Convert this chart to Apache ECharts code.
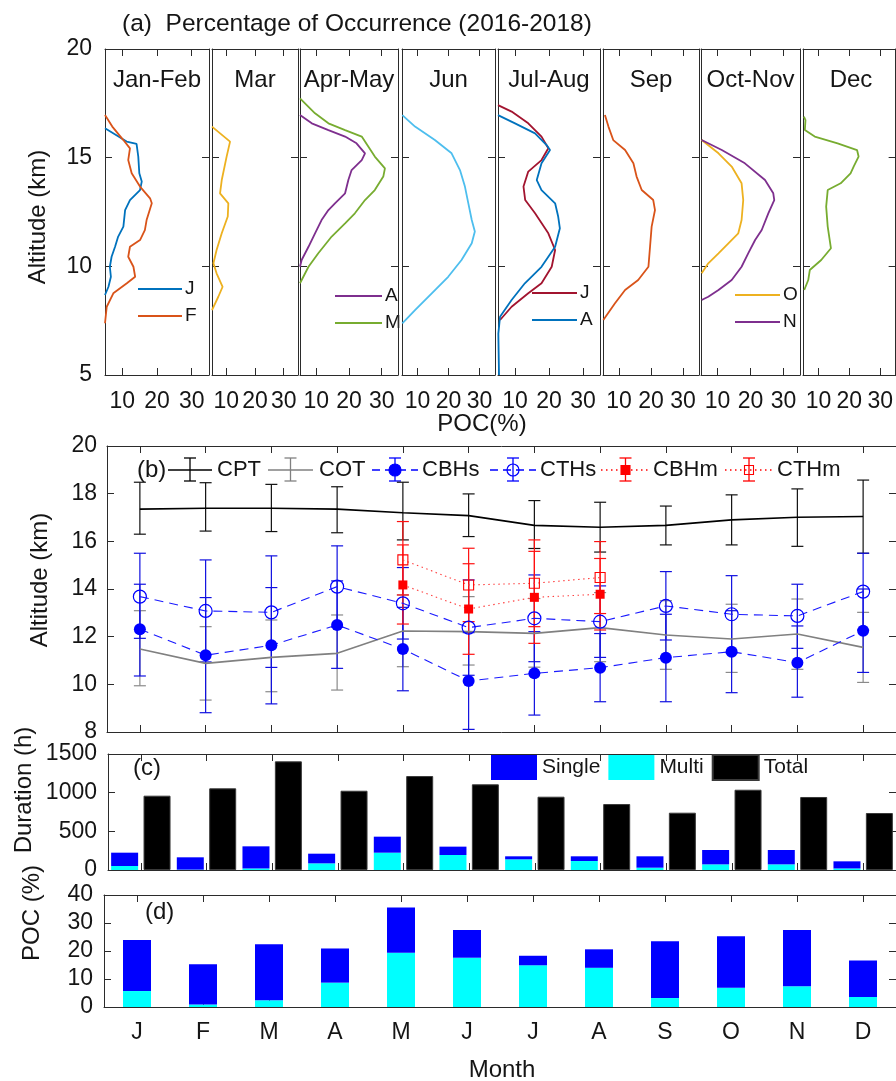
<!DOCTYPE html>
<html><head><meta charset="utf-8">
<script src="https://cdn.jsdelivr.net/npm/echarts@6/dist/echarts.min.js"></script>
<style>html,body{margin:0;padding:0;background:#fff}#c{width:896px;height:1081px}</style>
</head><body><div id="c"></div>
<script>
// ================= DATA =================
const months = ['J','F','M','A','M','J','J','A','S','O','N','D'];
const pocTicks = [10, 20, 30];
const altTicks = [5, 10, 15, 20];

// (a) POC profiles: [POC %, altitude km]
const janJ = [[5.0,16.35],[11.25,15.74],[14.1,15.63],[14.6,15.05],[14.9,14.28],[15.6,13.9],[15.1,13.51],[12.2,13.05],[10.8,12.59],[10.3,11.83],[8.8,11.37],[7.9,10.9],[6.9,10.44],[6.4,9.98],[6.7,9.52],[6.0,9.06],[5.0,8.68]];
const febF = [[5.0,16.96],[7.1,16.43],[10.3,15.81],[12.2,15.43],[11.7,14.89],[12.7,14.28],[15.1,13.67],[18.0,13.13],[18.5,12.9],[17.0,12.13],[16.5,11.67],[15.1,11.21],[12.2,10.9],[11.7,10.44],[13.2,9.98],[13.7,9.52],[11.3,9.22],[7.4,8.76],[5.5,8.14],[5.0,7.38]];
const marP = [[5.0,16.43],[11.3,15.74],[10.1,15.05],[8.4,13.97],[7.8,13.36],[10.7,12.9],[10.5,12.29],[8.4,11.52],[6.6,10.75],[5.5,10.14],[6.6,9.68],[8.7,9.06],[7.2,8.6],[5.0,7.99]];
const aprA = [[5.0,16.96],[8.6,16.58],[13.7,16.27],[18.8,15.97],[22.3,15.66],[24.9,15.2],[23.9,14.89],[20.8,14.43],[19.8,13.97],[18.8,13.36],[15.7,12.9],[13.7,12.59],[11.6,12.13],[9.6,11.52],[7.6,10.9],[5.5,10.29],[5.0,9.98]];
const mayM = [[5.0,17.73],[9.6,17.04],[13.7,16.58],[18.8,16.27],[23.9,15.97],[25.9,15.51],[27.9,15.05],[31.0,14.51],[30.5,14.13],[27.9,13.51],[24.9,13.05],[21.8,12.44],[18.8,11.98],[14.7,11.37],[10.6,10.6],[7.6,9.98],[5.0,9.22]];
const junP = [[5.1,16.96],[9.2,16.43],[15.6,15.81],[21.0,15.2],[23.7,14.43],[25.3,13.67],[26.4,12.9],[27.5,12.13],[28.5,11.6],[27.5,11.06],[24.2,10.29],[19.9,9.52],[14.6,8.76],[9.2,7.99],[5.1,7.38]];
const julJ = [[5.0,17.42],[9.0,17.12],[13.9,16.58],[17.8,15.97],[19.8,15.43],[17.8,14.89],[13.9,14.36],[12.5,13.67],[13.0,13.05],[15.9,12.44],[19.8,11.52],[21.8,10.75],[20.8,9.98],[17.8,9.22],[13.9,8.76],[9.0,8.14],[5.6,7.53]];
const augA = [[5.0,16.96],[10.0,16.58],[15.9,16.12],[19.3,15.58],[20.3,15.35],[17.8,14.74],[16.4,13.97],[17.8,13.51],[21.8,12.9],[22.7,12.29],[23.2,11.75],[21.8,10.9],[17.8,9.98],[12.9,9.22],[9.0,8.45],[5.6,7.68],[5.1,6.9],[5.3,5.0]];
const sepP = [[5.6,16.96],[6.7,16.43],[8.2,15.81],[11.9,15.35],[14.5,14.74],[15.5,14.13],[17.1,13.51],[20.7,13.05],[21.25,12.59],[20.2,11.83],[19.7,10.9],[19.2,9.98],[16.0,9.37],[11.9,8.91],[8.75,8.3],[5.1,7.53]];
const octO = [[5.2,15.81],[10.3,15.2],[14.3,14.59],[17.3,13.82],[17.8,13.05],[17.3,12.13],[16.3,11.52],[13.3,11.06],[10.3,10.6],[7.2,10.14],[5.2,9.68]];
const novN = [[5.2,15.81],[11.3,15.35],[18.3,14.74],[24.4,13.97],[26.9,13.36],[27.2,13.05],[25.4,12.44],[23.4,11.67],[21.4,11.21],[19.3,10.6],[17.3,9.98],[14.3,9.37],[10.3,8.91],[7.2,8.6],[5.2,8.45]];
const decP = [[5.3,16.89],[5.8,16.73],[5.6,16.27],[8.8,15.97],[16.2,15.66],[22.5,15.35],[23.0,15.05],[21.4,14.59],[20.4,14.28],[17.2,13.82],[13.0,13.51],[12.5,12.75],[13.0,11.83],[14.05,10.83],[10.9,10.29],[7.2,9.83],[6.7,9.37],[5.4,8.91]];

// (b) heights (km): mean, lower, upper
const cptMean = [17.35,17.39,17.39,17.35,17.20,17.08,16.67,16.59,16.67,16.90,17.01,17.04];
const cptLow  = [16.30,16.43,16.41,16.36,16.06,16.20,15.70,15.55,15.85,15.85,15.79,15.50];
const cptHigh = [18.48,18.46,18.39,18.29,18.48,17.99,17.71,17.64,17.48,17.95,18.20,18.57];
const cotMean = [11.48,10.88,11.13,11.30,12.24,12.21,12.14,12.38,12.07,11.90,12.11,11.55];
const cotLow  = [9.94,9.34,9.69,9.76,10.74,10.81,10.72,10.95,10.63,10.50,10.63,10.08];
const cotHigh = [13.09,12.42,12.70,12.91,13.75,13.68,13.60,13.85,13.51,13.36,13.58,13.02];
const cbhsMean = [12.31,11.22,11.64,12.49,11.48,10.14,10.46,10.70,11.12,11.37,10.91,12.25];
const cbhsLow  = [10.35,8.81,9.18,10.67,9.73,8.11,8.71,9.27,9.27,9.65,9.46,10.50];
const cbhsHigh = [14.20,13.64,14.06,14.34,13.23,12.17,12.21,12.13,12.94,13.09,12.45,14.00];
const cthsMean = [13.68,13.08,13.02,14.10,13.40,12.38,12.77,12.63,13.29,12.94,12.87,13.89];
const cthsLow  = [11.93,10.94,10.71,12.40,11.90,10.38,10.95,11.13,11.86,11.32,11.51,12.28];
const cthsHigh = [15.50,15.22,15.39,15.81,14.90,14.38,14.59,14.13,14.73,14.56,14.20,15.50];
const cbhmMean = [null,null,null,null,14.17,13.16,13.65,13.78,null,null,null,null];
const cbhmLow  = [null,null,null,null,12.53,11.26,11.72,12.28,null,null,null,null];
const cbhmHigh = [null,null,null,null,15.85,15.06,15.58,15.28,null,null,null,null];
const cthmMean = [null,null,null,null,15.22,14.17,14.24,14.48,null,null,null,null];
const cthmLow  = [null,null,null,null,13.75,12.63,12.42,12.97,null,null,null,null];
const cthmHigh = [null,null,null,null,16.83,15.71,16.06,15.99,null,null,null,null];

// (c) duration (h)
const durMulti  = [52,5,20,86,224,194,138,116,30,73,73,20];
const durSingle = [172,159,286,125,207,108,39,61,147,186,186,92];
const durTotal  = [961,1056,1405,1025,1215,1108,948,853,741,1038,944,737];

// (d) POC (%)
const pocMulti  = [5.7,0.9,2.4,8.7,19.4,17.6,14.9,14.0,3.2,6.9,7.4,3.6];
const pocSingle = [18.2,14.4,20.0,12.2,16.1,9.9,3.4,6.6,20.3,18.4,20.1,13.0];

// ================= STYLE / LAYOUT =================
const FONT = "'Liberation Sans', Arial, Helvetica, sans-serif";
const INK = '#151515';
const AXC = '#2b2b2b';
const C = {blue:'#0072BD', orange:'#D95319', yellow:'#EDB120', purple:'#7E2F8E', green:'#77AC30', lblue:'#4DBEEE', dred:'#A2142F'};

const aPanels = [
  {title:'Jan-Feb', left:105, width:104, lines:[{d:janJ,c:C.blue,n:'J'},{d:febF,c:C.orange,n:'F'}], leg:{x1:138,x2:182,y:289}},
  {title:'Mar', left:212, width:86, lines:[{d:marP,c:C.yellow,n:'Mar'}]},
  {title:'Apr-May', left:300, width:98, lines:[{d:aprA,c:C.purple,n:'A'},{d:mayM,c:C.green,n:'M'}], leg:{x1:335,x2:382,y:296}},
  {title:'Jun', left:402, width:93, lines:[{d:junP,c:C.lblue,n:'Jun'}]},
  {title:'Jul-Aug', left:498, width:102, lines:[{d:julJ,c:C.dred,n:'J'},{d:augA,c:C.blue,n:'A'}], leg:{x1:532,x2:577,y:293}},
  {title:'Sep', left:603, width:96, lines:[{d:sepP,c:C.orange,n:'Sep'}]},
  {title:'Oct-Nov', left:701, width:99, lines:[{d:octO,c:C.yellow,n:'O'},{d:novN,c:C.purple,n:'N'}], leg:{x1:735,x2:780,y:295}},
  {title:'Dec', left:803, width:96, lines:[{d:decP,c:C.green,n:'Dec'}]}
];

const AXL = {show:true, onZero:false, lineStyle:{color:AXC, width:1}};
const tk = (vals) => { const t = {show:true, inside:true, length:7, lineStyle:{color:AXC, width:1}}; if (vals) t.customValues = vals; return t; };
const lab = (extra) => Object.assign({color:INK, fontSize:23, fontFamily:FONT}, extra);

const grids = [], xAxes = [], yAxes = [], series = [], graphics = [];

function txt(x, y, s, size, opts) {
  const o = Object.assign({type:'text', x:x, y:y, silent:true, style:{text:s, fill:INK, font:size+'px '+FONT, textAlign:'left', textVerticalAlign:'middle'}}, opts||{});
  if (opts && opts.style) o.style = Object.assign({text:s, fill:INK, font:size+'px '+FONT, textAlign:'left', textVerticalAlign:'middle'}, opts.style);
  return o;
}

// ---- panel (a) ----
aPanels.forEach((p, i) => {
  grids.push({left:p.left, top:49, width:p.width, height:326});
  xAxes.push({type:'value', gridIndex:i, min:5, max:35, position:'bottom', axisLine:AXL, axisTick:tk(pocTicks), axisLabel:lab({customValues:pocTicks, margin:15}), splitLine:{show:false}});
  xAxes.push({type:'value', gridIndex:i, min:5, max:35, position:'top', axisLine:AXL, axisTick:tk(pocTicks), axisLabel:{show:false}, splitLine:{show:false}});
  yAxes.push({type:'value', gridIndex:i, min:5, max:20, interval:5, position:'left', axisLine:AXL, axisTick:tk([10,15]), axisLabel:lab({show:i===0, customValues:altTicks, margin:13}), splitLine:{show:false}});
  yAxes.push({type:'value', gridIndex:i, min:5, max:20, interval:5, position:'right', axisLine:AXL, axisTick:tk([10,15]), axisLabel:{show:false}, splitLine:{show:false}});
  p.lines.forEach(l => series.push({type:'line', name:p.title+' '+l.n, xAxisIndex:2*i, yAxisIndex:2*i, data:l.d, symbol:'none', lineStyle:{color:l.c, width:1.8}, itemStyle:{color:l.c}, silent:true, z:3}));
  graphics.push(txt(p.left + p.width/2, 80, p.title, 24, {style:{textAlign:'center'}}));
  if (p.leg) {
    p.lines.forEach((l, k) => {
      const y = p.leg.y + k*27;
      graphics.push({type:'line', silent:true, shape:{x1:p.leg.x1, y1:y, x2:p.leg.x2, y2:y}, style:{stroke:l.c, lineWidth:1.8}});
      graphics.push(txt(p.leg.x2 + 3, y, l.n, 19));
    });
  }
});

// ---- panels (b), (c), (d) ----
const gB = 8, gC = 9, gD = 10;
grids.push({left:107, top:446, width:792, height:286});
grids.push({left:108, top:754, width:792, height:116});
grids.push({left:104, top:895, width:796, height:112});

function catAxes(g, showLabels) {
  xAxes.push({type:'category', gridIndex:g, data:months, position:'bottom', boundaryGap:true, axisLine:AXL, axisTick:Object.assign(tk(), {alignWithLabel:true}), axisLabel:showLabels ? lab({margin:14, interval:0}) : {show:false}, splitLine:{show:false}});
  xAxes.push({type:'category', gridIndex:g, data:months, position:'top', boundaryGap:true, axisLine:AXL, axisTick:Object.assign(tk(), {alignWithLabel:true}), axisLabel:{show:false}, splitLine:{show:false}});
}
function valAxes(g, min, max, interval, margin) {
  yAxes.push({type:'value', gridIndex:g, min:min, max:max, interval:interval, position:'left', axisLine:AXL, axisTick:tk(), axisLabel:lab({margin:margin, formatter:(v) => String(v)}), splitLine:{show:false}});
  yAxes.push({type:'value', gridIndex:g, min:min, max:max, interval:interval, position:'right', axisLine:AXL, axisTick:tk(), axisLabel:{show:false}, splitLine:{show:false}});
}
catAxes(gB, false); valAxes(gB, 8, 20, 2, 10);
catAxes(gC, false); valAxes(gC, 0, 1500, 500, 11);
catAxes(gD, true);  valAxes(gD, 0, 40, 10, 11);

function errBar(color, width) {
  return function (params, api) {
    const x = api.value(0);
    const lo = api.coord([x, api.value(1)]);
    const hi = api.coord([x, api.value(2)]);
    const c = 6, st = {stroke:color, lineWidth:width};
    return {type:'group', children:[
      {type:'line', shape:{x1:lo[0], y1:lo[1], x2:hi[0], y2:hi[1]}, style:st},
      {type:'line', shape:{x1:lo[0]-c, y1:lo[1], x2:lo[0]+c, y2:lo[1]}, style:st},
      {type:'line', shape:{x1:hi[0]-c, y1:hi[1], x2:hi[0]+c, y2:hi[1]}, style:st}
    ]};
  };
}
function ebData(lo, hi) {
  const out = [];
  lo.forEach((v, i) => { if (v !== null) out.push([i, v, hi[i]]); });
  return out;
}
const bAx = {xAxisIndex:2*gB, yAxisIndex:2*gB};
function addB(name, mean, lo, hi, ebColor, lineStyle, symbol, size, itemStyle) {
  series.push(Object.assign({type:'custom', name:name+' err', renderItem:errBar(ebColor, 1.2), data:ebData(lo, hi), encode:{x:0, y:[1,2]}, silent:true, z:2}, bAx));
  series.push(Object.assign({type:'line', name:name, data:mean, symbol:symbol, symbolSize:size, showSymbol:symbol !== 'none', lineStyle:lineStyle, itemStyle:itemStyle, silent:true, z:3, connectNulls:false}, bAx));
}
addB('CPT', cptMean, cptLow, cptHigh, '#111', {color:'#000', width:1.6}, 'none', 0, {color:'#000'});
addB('COT', cotMean, cotLow, cotHigh, '#8a8a8a', {color:'#808080', width:1.6}, 'none', 0, {color:'#808080'});
addB('CTHs', cthsMean, cthsLow, cthsHigh, '#1010E0', {color:'#1a1aff', width:1.1, type:[9,6]}, 'circle', 13, {color:'rgba(255,255,255,0)', borderColor:'#0000FF', borderWidth:1.2});
addB('CBHs', cbhsMean, cbhsLow, cbhsHigh, '#1010E0', {color:'#1a1aff', width:1.1, type:[9,6]}, 'circle', 12, {color:'#0000FF'});
addB('CTHm', cthmMean, cthmLow, cthmHigh, '#FF1010', {color:'#FF4040', width:1.1, type:[1.5,3.5]}, 'rect', 10, {color:'rgba(255,255,255,0)', borderColor:'#FF0000', borderWidth:1.1});
addB('CBHm', cbhmMean, cbhmLow, cbhmHigh, '#FF1010', {color:'#FF4040', width:1.1, type:[1.5,3.5]}, 'rect', 9, {color:'#FF0000'});

// legend for (b)
graphics.push(txt(137, 470, '(b)', 24));
function bLeg(x1, x2, color, dash, marker, fill, label, tx) {
  const y = 470, xm = (x1 + x2) / 2;
  const st = {stroke:color, lineWidth:1.3};
  graphics.push({type:'line', silent:true, shape:{x1:x1, y1:y, x2:x2, y2:y}, style:Object.assign({stroke:color, lineWidth:1.5}, dash ? {lineDash:dash} : {})});
  graphics.push({type:'line', silent:true, shape:{x1:xm, y1:y-12, x2:xm, y2:y+11}, style:st});
  graphics.push({type:'line', silent:true, shape:{x1:xm-6, y1:y-12, x2:xm+6, y2:y-12}, style:st});
  graphics.push({type:'line', silent:true, shape:{x1:xm-6, y1:y+11, x2:xm+6, y2:y+11}, style:st});
  if (marker === 'circle') graphics.push({type:'circle', silent:true, shape:{cx:xm, cy:y, r:6}, style:{fill:fill ? color : 'rgba(255,255,255,0)', stroke:color, lineWidth:1.2}});
  if (marker === 'rect') graphics.push({type:'rect', silent:true, shape:{x:xm-4.5, y:y-4.5, width:9, height:9}, style:{fill:fill ? color : 'rgba(255,255,255,0)', stroke:color, lineWidth:1.1}});
  graphics.push(txt(tx, y, label, 22));
}
bLeg(168, 212, '#000', null, null, false, 'CPT', 217);
bLeg(268, 313, '#808080', null, null, false, 'COT', 319);
bLeg(372, 418, '#0000FF', [8,5], 'circle', true, 'CBHs', 422);
bLeg(490, 536, '#0000FF', [8,5], 'circle', false, 'CTHs', 540);
bLeg(601, 650, '#FF0000', [1.5,3.5], 'rect', true, 'CBHm', 653);
bLeg(725, 773, '#FF0000', [1.5,3.5], 'rect', false, 'CTHm', 777);

// ---- panel (c) ----
const cAx = {xAxisIndex:2*gC, yAxisIndex:2*gC};
series.push(Object.assign({type:'bar', name:'Multi', stack:'dur', data:durMulti, barWidth:27, barGap:'20%', itemStyle:{color:'#00FFFF'}, silent:true}, cAx));
series.push(Object.assign({type:'bar', name:'Single', stack:'dur', data:durSingle, barWidth:27, barGap:'20%', itemStyle:{color:'#0000FF'}, silent:true}, cAx));
series.push(Object.assign({type:'bar', name:'Total', data:durTotal, barWidth:27, barGap:'20%', itemStyle:{color:'#000000', borderColor:'#3a3a3a', borderWidth:1}, silent:true}, cAx));
graphics.push(txt(133, 768, '(c)', 24));

// ---- panel (d) ----
const dAx = {xAxisIndex:2*gD, yAxisIndex:2*gD};
series.push(Object.assign({type:'bar', name:'Multi', stack:'poc', data:pocMulti, barWidth:28, itemStyle:{color:'#00FFFF'}, silent:true}, dAx));
series.push(Object.assign({type:'bar', name:'Single', stack:'poc', data:pocSingle, barWidth:28, itemStyle:{color:'#0000FF'}, silent:true}, dAx));
graphics.push(txt(145, 912, '(d)', 24));

// ---- titles & axis names ----
graphics.push(txt(122, 24, '(a)  Percentage of Occurrence (2016-2018)', 24.5));
graphics.push(txt(482, 424, 'POC(%)', 24, {style:{textAlign:'center'}}));
graphics.push(txt(502, 1070, 'Month', 24, {style:{textAlign:'center'}}));
graphics.push(txt(38, 217, 'Altitude (km)', 24, {rotation:Math.PI/2, style:{textAlign:'center'}}));
graphics.push(txt(40, 580, 'Altitude (km)', 24, {rotation:Math.PI/2, style:{textAlign:'center'}}));
graphics.push(txt(24, 790, 'Duration (h)', 24, {rotation:Math.PI/2, style:{textAlign:'center'}}));
graphics.push(txt(32, 913, 'POC (%)', 24, {rotation:Math.PI/2, style:{textAlign:'center'}}));

const option = {
  animation:false,
  backgroundColor:'#ffffff',
  textStyle:{fontFamily:FONT},
  grid:grids, xAxis:xAxes, yAxis:yAxes, series:series,
  legend:{left:491, top:754, orient:'horizontal', itemWidth:46, itemHeight:25, itemGap:8, icon:'rect', selectedMode:false,
    data:['Single','Multi','Total'], textStyle:{fontSize:21, color:INK, fontFamily:FONT}, padding:0},
  graphic:graphics
};
const chart = echarts.init(document.getElementById('c'), null, {renderer:'canvas'});
chart.setOption(option);
</script>
</body></html>
